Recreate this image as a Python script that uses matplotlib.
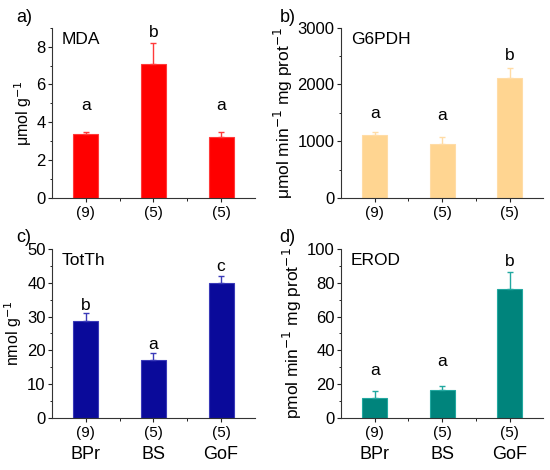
import numpy as np
import matplotlib
matplotlib.use("Agg")
import matplotlib.pyplot as plt
from matplotlib.ticker import AutoMinorLocator, FixedLocator

plt.rcParams["font.family"] = ["Liberation Sans", "DejaVu Sans"]

# data
groups = ["BPr", "BS", "GoF"]
n_samples = ["(9)", "(5)", "(5)"]

mda_mean = [3.37, 7.09, 3.24]
mda_err = [0.11, 1.11, 0.26]
mda_letters = ["a", "b", "a"]
mda_letter_y = [4.9, 8.77, 4.9]

g6pdh_mean = [1116, 958, 2120]
g6pdh_err = [46, 116, 169]
g6pdh_letters = ["a", "a", "b"]
g6pdh_letter_y = [1490, 1455, 2510]

totth_mean = [28.7, 17.1, 40.1]
totth_err = [2.4, 2.2, 2.0]
totth_letters = ["b", "a", "c"]
totth_letter_y = [33.4, 21.8, 44.8]

erod_mean = [11.9, 16.4, 76.1]
erod_err = [3.9, 2.6, 10.4]
erod_letters = ["a", "a", "b"]
erod_letter_y = [28.3, 33.2, 92.9]

panels = [
    # label, title, ylabel, label size, mean, err, letters, letter y, ylim, ystep, face, edge
    ("a)", "MDA", "\u03bcmol g$^{-1}$", 11.5, mda_mean, mda_err,
     mda_letters, mda_letter_y, 9, 2, "#ff0000", "#ff3a3a"),
    ("b)", "G6PDH", "\u03bcmol min$^{-1}$ mg prot$^{-1}$", 12.5, g6pdh_mean,
     g6pdh_err, g6pdh_letters, g6pdh_letter_y, 3000, 1000, "#ffd591", "#ffdca6"),
    ("c)", "TotTh", "nmol g$^{-1}$", 11.5, totth_mean, totth_err,
     totth_letters, totth_letter_y, 50, 10, "#0a0a9a", "#3a3ab8"),
    ("d)", "EROD", "pmol min$^{-1}$ mg prot$^{-1}$", 12.5, erod_mean, erod_err,
     erod_letters, erod_letter_y, 100, 20, "#00847c", "#22a8a0"),
]

# axes rectangles in figure fraction
rects = [
    [0.0945, 0.579, 0.369, 0.362],
    [0.620, 0.579, 0.368, 0.362],
    [0.0945, 0.111, 0.369, 0.359],
    [0.620, 0.111, 0.368, 0.359],
]
label_pos = [(0.030, 0.980), (0.508, 0.980), (0.030, 0.512), (0.508, 0.512)]

fig = plt.figure(figsize=(5.5, 4.7), dpi=100)
x = np.arange(len(groups))

for i, (plabel, title, ylabel, ylsize, mean, err, letters, letter_y, ymax,
        ystep, face, edge) in enumerate(panels):
    ax = fig.add_axes(rects[i])
    ax.bar(x, mean, width=0.37, color=face, edgecolor=edge, linewidth=0.8)
    ax.errorbar(x, mean, yerr=[np.zeros(len(err)), err], fmt="none",
                ecolor=edge, elinewidth=1.0, capsize=2.0, capthick=1.0)
    for xi, lt, ly in zip(x, letters, letter_y):
        ax.text(xi, ly, lt, ha="center", va="center", fontsize=12.5)
    ax.text(0.05, 0.93, title, transform=ax.transAxes, ha="left",
            va="center", fontsize=12.5)

    ax.set_xlim(-0.5, 2.5)
    ax.set_ylim(0, ymax)
    ax.set_yticks(np.arange(0, ymax + 1e-9, ystep))
    ax.yaxis.set_minor_locator(AutoMinorLocator(2))
    ax.xaxis.set_minor_locator(FixedLocator([0.5, 1.5]))
    ax.set_xticks(x)
    ax.set_xticklabels(n_samples, fontsize=11)
    ax.tick_params(axis="y", labelsize=12, length=3, width=0.8, pad=1.5,
                   colors="#222222", labelcolor="black")
    ax.tick_params(axis="x", length=3, width=0.8, pad=3, colors="#222222",
                   labelcolor="black")
    ax.tick_params(which="minor", length=1.8, width=0.6)
    for side in ["top", "right"]:
        ax.spines[side].set_visible(False)
    for side in ["left", "bottom"]:
        ax.spines[side].set_linewidth(0.8)
        ax.spines[side].set_color("#333333")
    ax.set_ylabel(ylabel, fontsize=ylsize, labelpad=2)

    if i >= 2:
        for xi, g in zip(x, groups):
            ax.text(xi, -0.22, g, transform=ax.get_xaxis_transform(),
                    ha="center", va="center", fontsize=13)

    fig.text(label_pos[i][0], label_pos[i][1], plabel, ha="left",
             va="top", fontsize=13)

fig.savefig("out.png", dpi=100)
